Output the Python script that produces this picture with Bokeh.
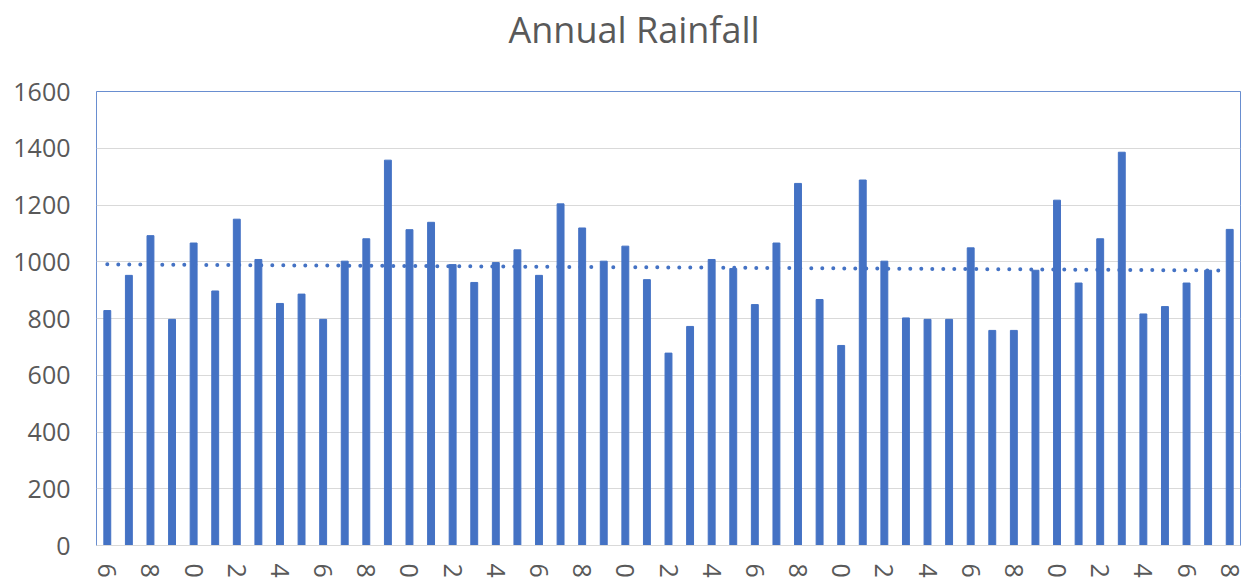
import numpy as np
from bokeh.plotting import figure
from bokeh.models import Range1d, FixedTicker, ColumnDataSource, Title
from bokeh.embed import file_html
from bokeh.resources import INLINE

years = list(range(1966, 2019))
rainfall = [828, 952, 1092, 797, 1066, 897, 1150, 1008, 853, 886,
            797, 1002, 1081, 1358, 1113, 1139, 990, 927, 997, 1042,
            952, 1204, 1119, 1002, 1055, 937, 678, 772, 1008, 976,
            849, 1066, 1276, 867, 705, 1288, 1002, 802, 797, 797,
            1049, 758, 758, 970, 1217, 925, 1081, 1386, 816, 842,
            925, 970, 1114]
tick_years = years[::2]
tick_labels = {y: str(y)[-1] for y in tick_years}
y_ticks = list(range(0, 1601, 200))
title_text = "Annual Rainfall"

BLUE = "#4472C4"
GREY_TXT = "#595959"

p = figure(width=1248, height=580, output_backend="svg", toolbar_location=None,
           x_range=Range1d(years[0] - 0.5, years[-1] + 0.5),
           y_range=Range1d(0, 1600),
           min_border_left=96, min_border_right=8, min_border_top=91, min_border_bottom=31,
           title=title_text)

src = ColumnDataSource(dict(year=years, rain=rainfall))
p.vbar(x="year", top="rain", width=0.32, bottom=0, source=src, color=BLUE)

# linear trendline computed from the data
coef = np.polyfit(years, rainfall, 1)
trend = np.polyval(coef, years)
p.line([years[0], years[-1]], [trend[0], trend[-1]], line_color=BLUE, line_width=4,
       line_dash="0 11", line_cap="round")

# empty spacer between the plot area and the title, pushing the title upward
p.add_layout(Title(text=" ", text_font_size="2px", standoff=34), "above")

p.title.align = "left"
p.title.offset = 412
p.title.standoff = 0
p.title.text_font = "Open Sans"
p.title.text_font_size = "36px"
p.title.text_font_style = "normal"
p.title.text_color = GREY_TXT

p.outline_line_color = BLUE
p.outline_line_width = 1
p.outline_line_alpha = 0.8

p.xgrid.grid_line_color = None
p.ygrid.grid_line_color = "#D9D9D9"
p.ygrid.ticker = FixedTicker(ticks=y_ticks)

p.yaxis.ticker = FixedTicker(ticks=y_ticks)
p.yaxis.axis_line_color = None
p.yaxis.major_tick_line_color = None
p.yaxis.minor_tick_line_color = None
p.yaxis.major_label_standoff = 20
p.yaxis.major_label_text_font = "Open Sans"
p.yaxis.major_label_text_font_size = "25px"
p.yaxis.major_label_text_color = GREY_TXT

p.xaxis.ticker = FixedTicker(ticks=tick_years)
p.xaxis.major_label_overrides = tick_labels
p.xaxis.major_label_orientation = "vertical"
p.xaxis.axis_line_color = "#D9D9D9"
p.xaxis.major_tick_line_color = None
p.xaxis.minor_tick_line_color = None
p.xaxis.major_label_standoff = 12
p.xaxis.major_label_text_font = "Open Sans"
p.xaxis.major_label_text_font_size = "25px"
p.xaxis.major_label_text_color = GREY_TXT

p.background_fill_color = "white"
p.border_fill_color = "white"

open("out.html", "w").write(file_html(p, INLINE))
